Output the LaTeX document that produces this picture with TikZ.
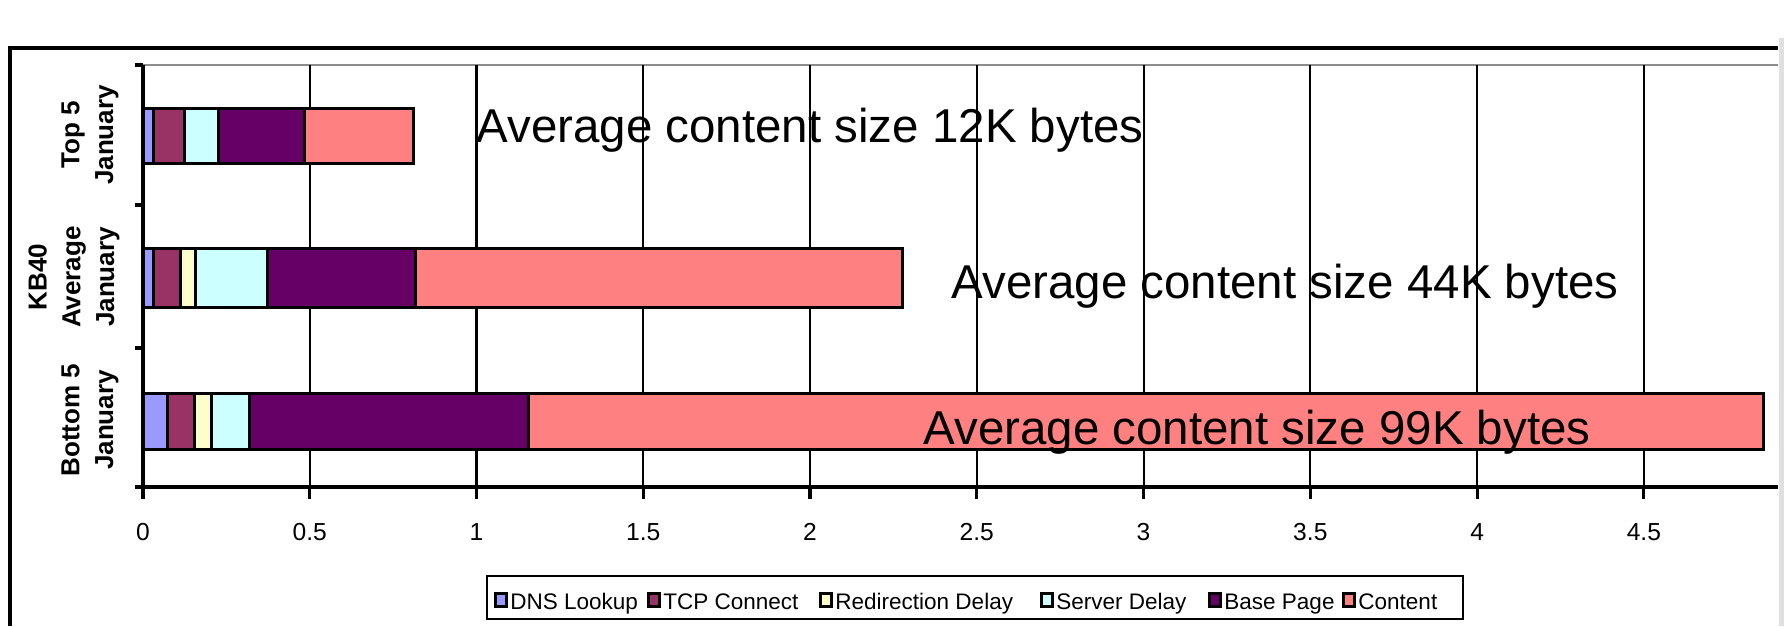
\documentclass[tikz,border=0pt]{standalone}
\usepackage{fontspec}
\setmainfont{Liberation Sans}
\usetikzlibrary{positioning}

\definecolor{dnscol}{HTML}{9999FF}
\definecolor{tcpcol}{HTML}{993366}
\definecolor{redircol}{HTML}{FFFFCC}
\definecolor{srvcol}{HTML}{CCFFFF}
\definecolor{basecol}{HTML}{660066}
\definecolor{contcol}{HTML}{FF8080}

\begin{document}
\begin{tikzpicture}[x=0.01cm, y=-0.01cm, seg/.style={draw=black, line width=0.85pt}, grid/.style={line width=0.6pt}, axis/.style={line width=0.9pt}, note/.style={font=\fontsize{13.5}{16}\selectfont, inner sep=0pt, anchor=base west}, cat/.style={font=\fontsize{7.4}{9.6}\selectfont\bfseries, rotate=90, align=center, inner sep=0pt}, tick/.style={font=\fontsize{7}{8}\selectfont, inner sep=0pt}, key/.style={draw=black, line width=0.7pt, minimum width=0.11cm, minimum height=0.13cm, inner sep=0pt}, keytext/.style={font=\fontsize{6.4}{8}\selectfont, inner sep=0pt, text height=1.4ex, text depth=0.4ex}]
\useasboundingbox (0,0) rectangle (1784,626);
% frame and plot area
\fill [black!12] (1779,38) rectangle (1784,626);
\draw [axis] (10,626) -- (10,48) -- (1778,48);
\draw [line width=0.8pt, black!45] (143,65) -- (1778,65);
\begin{scope}[shift={(143,0)}, x=3.3333cm]
% grid
\draw [grid] (0.5,65) -- (0.5,487);
\draw [grid] (1.0,65) -- (1.0,487);
\draw [grid] (1.5,65) -- (1.5,487);
\draw [grid] (2.0,65) -- (2.0,487);
\draw [grid] (2.5,65) -- (2.5,487);
\draw [grid] (3.0,65) -- (3.0,487);
\draw [grid] (3.5,65) -- (3.5,487);
\draw [grid] (4.0,65) -- (4.0,487);
\draw [grid] (4.5,65) -- (4.5,487);
% Top 5
\draw [seg, fill=dnscol] (0,108) rectangle (0.030,163);
\draw [seg, fill=tcpcol] (0.030,108) rectangle (0.124,163);
\draw [seg, fill=srvcol] (0.124,108) rectangle (0.226,163);
\draw [seg, fill=basecol] (0.226,108) rectangle (0.484,163);
\draw [seg, fill=contcol] (0.484,108) rectangle (0.810,163);
% KB40
\draw [seg, fill=dnscol] (0,248) rectangle (0.031,307);
\draw [seg, fill=tcpcol] (0.031,248) rectangle (0.112,307);
\draw [seg, fill=redircol] (0.112,248) rectangle (0.157,307);
\draw [seg, fill=srvcol] (0.157,248) rectangle (0.372,307);
\draw [seg, fill=basecol] (0.372,248) rectangle (0.817,307);
\draw [seg, fill=contcol] (0.817,248) rectangle (2.277,307);
% Bottom 5
\draw [seg, fill=dnscol] (0,393) rectangle (0.072,449);
\draw [seg, fill=tcpcol] (0.072,393) rectangle (0.153,449);
\draw [seg, fill=redircol] (0.153,393) rectangle (0.204,449);
\draw [seg, fill=srvcol] (0.204,393) rectangle (0.318,449);
\draw [seg, fill=basecol] (0.318,393) rectangle (1.157,449);
\draw [seg, fill=contcol] (1.157,393) rectangle (4.860,449);
% axes
\draw [axis] (0,65) -- (0,487);
\draw [axis] (-0.024,487) -- (4.903,487);
\draw [axis] (-0.024,65) -- (0,65) (-0.024,205) -- (0,205) (-0.024,348) -- (0,348);
\draw [axis] (0,487) -- (0,499) (0.5,487) -- (0.5,499) (1,487) -- (1,499) (1.5,487) -- (1.5,499) (2,487) -- (2,499) (2.5,487) -- (2.5,499) (3,487) -- (3,499) (3.5,487) -- (3.5,499) (4,487) -- (4,499) (4.5,487) -- (4.5,499);
\node [tick] (t00) at (0,532) {0};
\node [tick] (t05) at (0.5,532) {0.5};
\node [tick] (t10) at (1,532) {1};
\node [tick] (t15) at (1.5,532) {1.5};
\node [tick] (t20) at (2,532) {2};
\node [tick] (t25) at (2.5,532) {2.5};
\node [tick] (t30) at (3,532) {3};
\node [tick] (t35) at (3.5,532) {3.5};
\node [tick] (t40) at (4,532) {4};
\node [tick] (t45) at (4.5,532) {4.5};
\end{scope}
% category labels
\node [cat] (topcat) at (90,135) {Top 5\\January};
\node [cat] (kbcat) at (74,277) {KB40\\Average\\January};
\node [cat] (botcat) at (90,420) {Bottom 5\\January};
% notes
\node [note] (topnote) at (476,142) {Average content size 12K bytes};
\node [note] (kbnote) at (951,298) {Average content size 44K bytes};
\node [note] (botnote) at (923,444) {Average content size 99K bytes};
% legend
\draw [line width=0.8pt] (487,576) rectangle (1463,619);
\node [key, fill=dnscol] (kdns) at (501,600) {};
\node [keytext, right=0.2mm of kdns] (ldns) {DNS Lookup};
\node [key, fill=tcpcol] (ktcp) at (654,600) {};
\node [keytext, right=0.2mm of ktcp] (ltcp) {TCP Connect};
\node [key, fill=redircol] (kredir) at (826,600) {};
\node [keytext, right=0.2mm of kredir] (lredir) {Redirection Delay};
\node [key, fill=srvcol] (ksrv) at (1047,600) {};
\node [keytext, right=0.2mm of ksrv] (lsrv) {Server Delay};
\node [key, fill=basecol] (kbase) at (1215,600) {};
\node [keytext, right=0.2mm of kbase] (lbase) {Base Page};
\node [key, fill=contcol] (kcont) at (1349,600) {};
\node [keytext, right=0.2mm of kcont] (lcont) {Content};
\end{tikzpicture}
\end{document}
